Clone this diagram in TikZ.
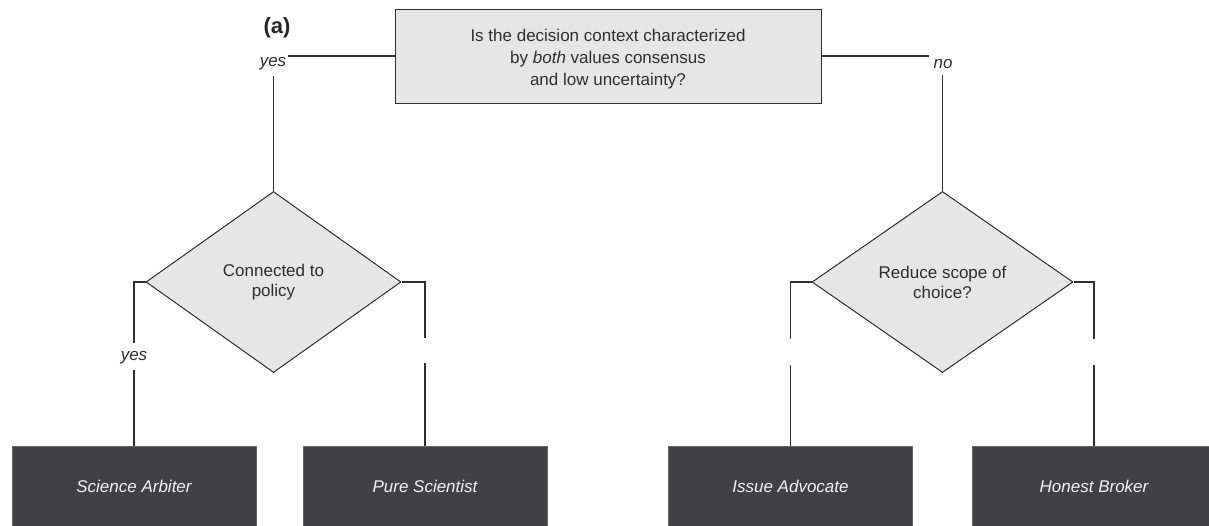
\documentclass[tikz,border=0pt]{standalone}
\usepackage{fontspec}
\setmainfont{Liberation Sans}
\usetikzlibrary{shapes.geometric}
\definecolor{boxgray}{HTML}{E6E6E6}
\definecolor{darkbox}{HTML}{414143}
\definecolor{linec}{HTML}{2E2E2E}
\definecolor{roletext}{HTML}{F2F2F2}
\begin{document}
\begin{tikzpicture}[x=1pt,y=-1pt,
  txt/.style={font=\fontsize{17}{21.7}\selectfont, text=linec},
  qbox/.style={txt, draw=linec, fill=boxgray, line width=1pt, minimum width=426, minimum height=94, align=center, inner sep=0},
  dec/.style={diamond, txt, font=\fontsize{17}{20}\selectfont, draw=linec, fill=boxgray, line width=1pt, inner sep=0, align=center, minimum height=181},
  role/.style={fill=darkbox, draw=darkbox!80!white, line width=0.8pt, minimum width=244, minimum height=80, text=roletext, font=\itshape\fontsize{17}{20}\selectfont},
  lab/.style={font=\itshape\fontsize{17}{20}\selectfont, text=linec, inner sep=0},
  conn/.style={draw=linec, line width=1.1pt}]
\useasboundingbox (0,0) rectangle (1209,525);
\clip (0,0) rectangle (1209,525);

% title label
\node[font=\bfseries\fontsize{22}{26}\selectfont, text=black!85, inner sep=0] (alab) at (277,28) {(a)};

% question box
\node[qbox] (q) at (608,56) {\rule{0pt}{18.5pt}Is the decision context characterized\\ by \textit{both} values consensus\\ and low uncertainty?};

% diamonds
\node[dec, minimum width=255] (d1) at (273.5,282) {Connected to\\ policy};
\node[dec, minimum width=261] (d2) at (942.5,282) {Reduce scope of\\ choice?};

% role boxes
\node[role] (sa) at (134,486) {Science Arbiter};
\node[role] (ps) at (425,486) {Pure Scientist};
\node[role] (ia) at (790.5,486) {Issue Advocate};
\node[role] (hb) at (1094,486) {Honest Broker};

% top connectors
\coordinate (ya) at (288,56);
\node[lab] (yes1) at (273,64) {yes};
\coordinate (yb) at (273.5,76);
\draw[conn] (q.west) -- (ya);
\draw[conn] (yb) -- (d1.north);

\coordinate (na) at (929,56);
\node[lab] (no1) at (943,64) {no};
\coordinate (nb) at (942.5,75);
\draw[conn] (q.east) -- (na);
\draw[conn] (nb) -- (d2.north);

% left diamond branches
\coordinate (l1) at (134,343);
\node[lab] (yes2) at (134,358) {yes};
\coordinate (l2) at (134,370);
\draw[conn] (d1.west) -| (l1);
\draw[conn] (l2) -- (sa.north);

\coordinate (r1) at (425,338);
\coordinate (r2) at (425,363);
\draw[conn] (d1.east) -| (r1);
\draw[conn] (r2) -- (ps.north);

% right diamond branches
\coordinate (l3) at (790.5,339);
\coordinate (l4) at (790.5,365);
\draw[conn] (d2.west) -| (l3);
\draw[conn] (l4) -- (ia.north);

\coordinate (r3) at (1094,339);
\coordinate (r4) at (1094,365);
\draw[conn] (d2.east) -| (r3);
\draw[conn] (r4) -- (hb.north);
\end{tikzpicture}
\end{document}
